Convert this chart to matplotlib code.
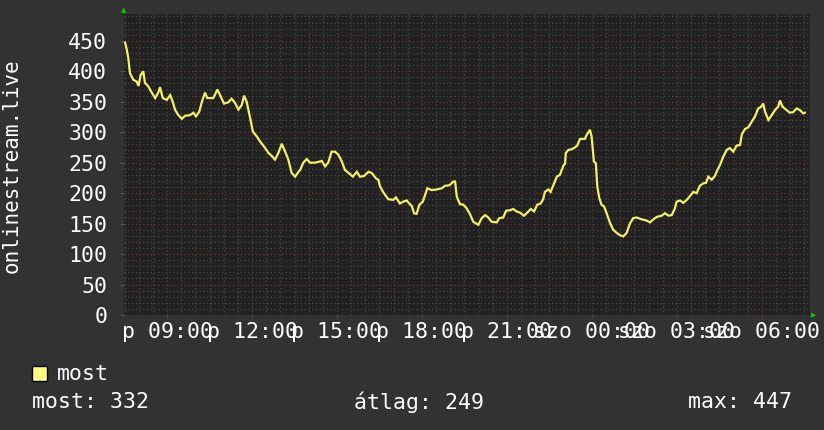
import matplotlib
matplotlib.use("Agg")
import matplotlib.pyplot as plt
from matplotlib.patches import Rectangle

# hours since 00:00 of the first day, and listeners
hours = [7.52, 7.58, 7.63, 7.69, 7.81, 7.93, 7.99, 8.07, 8.16, 8.22, 8.34, 8.46, 8.58, 8.69,
         8.75, 8.85, 8.99, 9.11, 9.20, 9.28, 9.40, 9.52, 9.64, 9.81, 9.93, 10.02, 10.14, 10.23,
         10.34, 10.42, 10.63, 10.78, 10.87, 11.01, 11.16, 11.28, 11.40, 11.52, 11.64, 11.72,
         11.81, 11.93, 12.03, 12.17, 12.28, 12.40, 12.58, 12.70, 12.81, 12.93, 13.05, 13.17,
         13.28, 13.40, 13.52, 13.64, 13.70, 13.81, 13.93, 14.05, 14.22, 14.40, 14.46, 14.58,
         14.69, 14.81, 14.93, 15.05, 15.17, 15.28, 15.44, 15.56, 15.70, 15.81, 15.95, 16.11,
         16.23, 16.38, 16.46, 16.52, 16.64, 16.81, 16.99, 17.08, 17.22, 17.34, 17.46, 17.55,
         17.64, 17.72, 17.81, 17.91, 18.03, 18.11, 18.19, 18.34, 18.52, 18.70, 18.81, 18.97,
         19.11, 19.17, 19.23, 19.34, 19.46, 19.58, 19.70, 19.81, 19.99, 20.11, 20.23, 20.34,
         20.46, 20.64, 20.73, 20.87, 20.97, 21.11, 21.22, 21.34, 21.46, 21.60, 21.72, 21.84,
         21.96, 22.07, 22.19, 22.28, 22.34, 22.46, 22.54, 22.64, 22.76, 22.87, 22.99, 23.05,
         23.08, 23.17, 23.29, 23.40, 23.48, 23.58, 23.75, 23.82, 23.93, 23.99, 24.07, 24.14,
         24.19, 24.26, 24.34, 24.43, 24.52, 24.64, 24.75, 24.87, 24.99, 25.11, 25.23, 25.34,
         25.46, 25.58, 25.76, 25.93, 26.05, 26.17, 26.29, 26.46, 26.58, 26.70, 26.82, 26.93,
         26.99, 27.11, 27.23, 27.35, 27.46, 27.58, 27.70, 27.81, 27.93, 28.03, 28.11, 28.23,
         28.34, 28.43, 28.52, 28.64, 28.76, 28.87, 28.99, 29.11, 29.23, 29.29, 29.40, 29.52,
         29.64, 29.76, 29.87, 29.96, 30.05, 30.11, 30.23, 30.35, 30.46, 30.58, 30.64, 30.73,
         30.88, 30.99, 31.11, 31.23, 31.35, 31.46, 31.52]
listeners = [447, 435, 422, 397, 386, 383, 376, 394, 400, 381, 375, 365, 356, 365,
             374, 356, 353, 361, 350, 337, 328, 322, 327, 328, 332, 326, 334, 350,
             365, 356, 356, 370, 361, 347, 349, 355, 348, 337, 345, 360,
             350, 324, 301, 293, 285, 278, 266, 261, 255, 266, 281, 268,
             255, 233, 227, 235, 238, 250, 256, 250, 250, 252, 253, 244,
             250, 268, 268, 263, 252, 238, 232, 227, 235, 227, 228, 235,
             233, 224, 222, 211, 201, 190, 189, 193, 183, 186, 188, 183,
             179, 167, 166, 181, 186, 197, 208, 205, 206, 208, 212, 213,
             219, 219, 194, 182, 181, 175, 165, 153, 148, 159, 164, 160,
             153, 152, 159, 160, 171, 172, 174, 170, 168, 163, 168, 174,
             170, 181, 183, 190, 202, 206, 202, 213, 227, 230, 245, 248,
             266, 271, 272, 275, 278, 289, 289, 296, 304, 293, 252, 249,
             211, 192, 181, 178, 167, 151, 140, 135, 131, 129, 135, 150,
             159, 160, 157, 155, 152, 157, 161, 163, 167, 163, 164, 175,
             186, 188, 184, 189, 195, 202, 200, 212, 216, 217, 227, 222,
             228, 238, 246, 260, 271, 274, 268, 278, 279, 296, 305, 308,
             317, 326, 339, 341, 347, 334, 320, 328, 336, 342, 352, 342,
             336, 332, 333, 339, 336, 331, 332]

tick_hours = [9, 12, 15, 18, 21, 24, 27, 30]
tick_labels = ["p 09:00", "p 12:00", "p 15:00", "p 18:00", "p 21:00",
               "szo 00:00", "szo 03:00", "szo 06:00"]
y_ticks = [0, 50, 100, 150, 200, 250, 300, 350, 400, 450]

series_name = "most"
stat_now, stat_avg, stat_max = 332, 249, 447

canvas = "#323232"
back = "#212121"
mono = "DejaVu Sans Mono"
fs = 15.5

fig = plt.figure(figsize=(8.24, 4.30), dpi=100, facecolor=canvas)
ax = fig.add_axes([124 / 824, 115 / 430, 686 / 824, 301 / 430])
ax.set_facecolor(back)
ax.set_xlim(7.48, 31.70)
ax.set_ylim(0, 494)

# minor / major grid, rrdtool style
for yy in range(0, 495, 10):
    if yy % 50 == 0:
        ax.axhline(yy, color="#6e3636", lw=0.9, ls=(0, (1, 2)), zorder=1)
    else:
        ax.axhline(yy, color="#4a4a4a", lw=0.9, ls=(0, (1, 2)), zorder=1)
h = 8
while h < 31.7:
    ax.axvline(h, color="#6e3636", lw=0.9, ls=(0, (1, 2)), zorder=1)
    ax.axvline(h - 0.5, color="#4a4a4a", lw=0.9, ls=(0, (1, 2)), zorder=1)
    h += 1
ax.axvline(31.5, color="#4a4a4a", lw=0.9, ls=(0, (1, 2)), zorder=1)

ax.plot(hours, listeners, color="#f2f068", lw=1.6, zorder=3, solid_joinstyle="miter")

for s in ax.spines.values():
    s.set_visible(False)

ax.set_xticks(tick_hours)
ax.set_xticklabels(tick_labels)
ax.set_yticks(y_ticks)
ax.set_yticklabels([str(v) for v in y_ticks])
ax.tick_params(axis="x", colors="#6e3636", length=3, pad=2, labelcolor="white", labelsize=fs)
ax.tick_params(axis="y", colors="#555555", length=3, pad=9, labelcolor="white", labelsize=fs)
for lab in ax.get_xticklabels() + ax.get_yticklabels():
    lab.set_fontfamily(mono)

fig.text(12 / 824, 1 - 166 / 430, "onlinestream.live", rotation=90, color="white",
         fontsize=15, family=mono, ha="center", va="center")

# axis arrows
fig.text(124 / 824, 1 - 10 / 430, "\u25b2", color="#00cc00", fontsize=5, ha="center", va="center")
fig.text(814 / 824, 1 - 315 / 430, "\u25b6", color="#00cc00", fontsize=5, ha="center", va="center")

# legend
fig.patches.append(Rectangle((32 / 824, 1 - 381 / 430), 15 / 824, 15 / 430,
                             transform=fig.transFigure, facecolor="#ffff80",
                             edgecolor="black", lw=1))
fig.text(57 / 824, 1 - 374 / 430, series_name, color="white", fontsize=fs,
         family=mono, va="center")
fig.text(32 / 824, 1 - 402 / 430, f"most: {stat_now}", color="white", fontsize=fs,
         family=mono, va="center")
fig.text(354 / 824, 1 - 402 / 430, f"átlag: {stat_avg}", color="white", fontsize=fs,
         family=mono, va="center")
fig.text(688 / 824, 1 - 402 / 430, f"max: {stat_max}", color="white", fontsize=fs,
         family=mono, va="center")

fig.savefig("out.png", dpi=100, facecolor=canvas)
